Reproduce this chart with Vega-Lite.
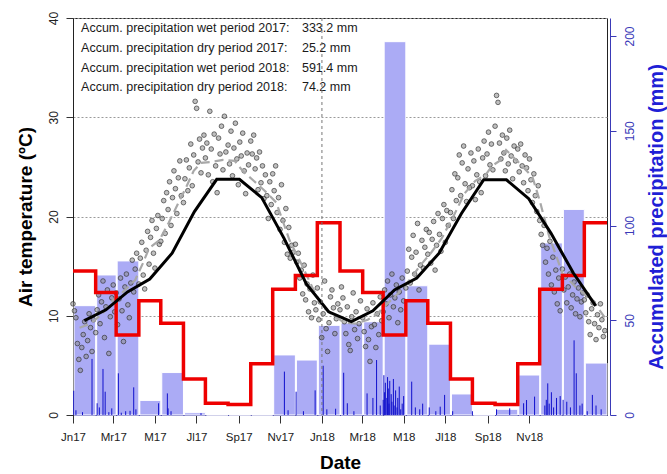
{
"$schema":"https://vega.github.io/schema/vega-lite/v6.json",
"width":534,"height":397,
"autosize":{"type":"none"},
"padding":{"left":73,"top":18,"right":60,"bottom":59},
"background":"white",
"config":{"font":"Liberation Sans","view":{"stroke":"#222","strokeWidth":1}},
"datasets":{
"monthly":[
{"m":"2017-01-01","p":57.7,"c":9.5},{"m":"2017-02-01","p":73.9,"c":10.6},{"m":"2017-03-01","p":81.3,"c":12.4},{"m":"2017-04-01","p":7.7,"c":13.7},{"m":"2017-05-01","p":22.4,"c":16.3},{"m":"2017-06-01","p":1.2,"c":20.5},{"m":"2017-07-01","p":0,"c":23.75},{"m":"2017-08-01","p":0,"c":23.75},{"m":"2017-09-01","p":0,"c":21.9},{"m":"2017-10-01","p":31.7,"c":17.8},{"m":"2017-11-01","p":29.0,"c":13.2},{"m":"2017-12-01","p":47.3,"c":10.4},
{"m":"2018-01-01","p":48.5,"c":9.4},{"m":"2018-02-01","p":49.2,"c":10.5},{"m":"2018-03-01","p":197.0,"c":12.6},{"m":"2018-04-01","p":68.2,"c":13.8},{"m":"2018-05-01","p":37.4,"c":16.3},{"m":"2018-06-01","p":11.1,"c":20.3},{"m":"2018-07-01","p":0,"c":23.7},{"m":"2018-08-01","p":3.0,"c":23.7},{"m":"2018-09-01","p":21.1,"c":21.8},{"m":"2018-10-01","p":90.8,"c":18.3},{"m":"2018-11-01","p":108.5,"c":14.3},{"m":"2018-12-01","p":27.4,"c":11.0}],
"hist":[
{"m":"2017-01-01","h":76.0},{"m":"2017-02-01","h":64.7},{"m":"2017-03-01","h":42.2},{"m":"2017-04-01","h":60.3},{"m":"2017-05-01","h":48.4},{"m":"2017-06-01","h":19.0},{"m":"2017-07-01","h":6.2},{"m":"2017-08-01","h":5.6},{"m":"2017-09-01","h":27.0},{"m":"2017-10-01","h":66.3},{"m":"2017-11-01","h":73.6},{"m":"2017-12-01","h":101.4},
{"m":"2018-01-01","h":76.0},{"m":"2018-02-01","h":64.7},{"m":"2018-03-01","h":42.2},{"m":"2018-04-01","h":60.3},{"m":"2018-05-01","h":48.4},{"m":"2018-06-01","h":19.0},{"m":"2018-07-01","h":6.2},{"m":"2018-08-01","h":5.6},{"m":"2018-09-01","h":27.0},{"m":"2018-10-01","h":66.3},{"m":"2018-11-01","h":73.6},{"m":"2018-12-01","h":101.4},{"m":"2019-01-01","h":101.4}],
"rain":[
{"d":"2017-01-02","p":12.8},{"d":"2017-01-05","p":2.5},{"d":"2017-01-14","p":1.5},{"d":"2017-01-27","p":29.6},{"d":"2017-02-03","p":6.2},{"d":"2017-02-06","p":4.0},{"d":"2017-02-11","p":24.3},{"d":"2017-02-14","p":12.3},{"d":"2017-02-19","p":1.5},{"d":"2017-02-23","p":3.5},{"d":"2017-03-04","p":22.0},{"d":"2017-03-08","p":1.2},{"d":"2017-03-14","p":2.0},{"d":"2017-03-20","p":2.2},{"d":"2017-03-25","p":14.6},{"d":"2017-03-28","p":3.0},{"d":"2017-04-28","p":6.2},{"d":"2017-05-10","p":11.4},{"d":"2017-05-11","p":3.5},{"d":"2017-05-15","p":2.0},{"d":"2017-06-25","p":1.0},
{"d":"2017-10-17","p":22.9},{"d":"2017-10-22","p":2.5},{"d":"2017-11-02","p":12.3},{"d":"2017-11-12","p":2.0},{"d":"2017-11-28","p":13.0},{"d":"2017-12-09","p":26.0},{"d":"2017-12-14","p":3.0},{"d":"2017-12-26","p":3.3},
{"d":"2018-01-06","p":22.3},{"d":"2018-01-11","p":6.2},{"d":"2018-01-20","p":2.0},{"d":"2018-02-07","p":11.4},{"d":"2018-02-15","p":9.0},{"d":"2018-02-20","p":29.0},{"d":"2018-02-25","p":5.0},
{"d":"2018-03-01","p":8},{"d":"2018-03-02","p":21},{"d":"2018-03-03","p":12},{"d":"2018-03-04","p":17},{"d":"2018-03-06","p":9},{"d":"2018-03-07","p":20},{"d":"2018-03-08","p":14},{"d":"2018-03-09","p":6},{"d":"2018-03-10","p":18},{"d":"2018-03-12","p":11},{"d":"2018-03-13","p":7},{"d":"2018-03-15","p":19},{"d":"2018-03-16","p":5},{"d":"2018-03-18","p":13},{"d":"2018-03-20","p":4},{"d":"2018-03-21","p":9},{"d":"2018-03-23","p":15},{"d":"2018-03-25","p":3},{"d":"2018-03-27","p":6},{"d":"2018-03-29","p":10},
{"d":"2018-04-09","p":17.6},{"d":"2018-04-14","p":4.0},{"d":"2018-04-20","p":3.0},{"d":"2018-04-24","p":6.0},{"d":"2018-05-03","p":4.0},{"d":"2018-05-12","p":2.0},{"d":"2018-05-18","p":4.4},{"d":"2018-05-24","p":10.6},{"d":"2018-06-04","p":2.0},{"d":"2018-07-01","p":2.0},{"d":"2018-08-03","p":3.0},{"d":"2018-08-21","p":3.5},{"d":"2018-09-09","p":6.2},{"d":"2018-09-13","p":7.9},{"d":"2018-09-24","p":9.7},
{"d":"2018-10-08","p":5.0},{"d":"2018-10-10","p":8.0},{"d":"2018-10-12","p":16.7},{"d":"2018-10-14","p":6.0},{"d":"2018-10-17","p":12.0},{"d":"2018-10-20","p":4.0},{"d":"2018-10-24","p":9.0},{"d":"2018-10-29","p":10.0},{"d":"2018-11-02","p":8.0},{"d":"2018-11-07","p":7.0},{"d":"2018-11-12","p":4.0},{"d":"2018-11-17","p":39.4},{"d":"2018-11-20","p":22.0},{"d":"2018-11-25","p":5.0},{"d":"2018-11-28","p":6.0},{"d":"2018-12-05","p":2.0},{"d":"2018-12-12","p":10.6},{"d":"2018-12-17","p":5.0},{"d":"2018-12-24","p":3.0}],
"smooth":[
{"d":"2017-01-10","t":8.8},{"d":"2017-01-25","t":9.2},{"d":"2017-02-10","t":10.2},{"d":"2017-02-25","t":11.6},{"d":"2017-03-12","t":12.5},{"d":"2017-03-27","t":13.6},{"d":"2017-04-06","t":15.2},{"d":"2017-04-15","t":16.8},{"d":"2017-04-29","t":17.6},{"d":"2017-05-12","t":19.4},{"d":"2017-05-24","t":21.2},{"d":"2017-06-05","t":23.0},{"d":"2017-06-15","t":24.6},{"d":"2017-06-25","t":25.4},{"d":"2017-07-10","t":25.5},{"d":"2017-07-25","t":25.7},{"d":"2017-08-10","t":25.6},{"d":"2017-08-22","t":24.5},{"d":"2017-09-05","t":23.6},{"d":"2017-09-20","t":22.6},{"d":"2017-10-06","t":21.4},{"d":"2017-10-24","t":17.6},{"d":"2017-11-08","t":15.4},{"d":"2017-11-24","t":12.9},{"d":"2017-12-08","t":10.9},{"d":"2017-12-22","t":10.1},
{"d":"2018-01-07","t":9.3},{"d":"2018-01-22","t":9.2},{"d":"2018-02-08","t":9.6},{"d":"2018-02-22","t":10.3},{"d":"2018-03-08","t":11.3},{"d":"2018-03-22","t":12.3},{"d":"2018-04-06","t":13.6},{"d":"2018-04-20","t":15.0},{"d":"2018-05-05","t":16.3},{"d":"2018-05-20","t":17.8},{"d":"2018-06-05","t":20.0},{"d":"2018-06-20","t":22.3},{"d":"2018-07-05","t":23.6},{"d":"2018-07-19","t":24.2},{"d":"2018-07-28","t":25.1},{"d":"2018-08-07","t":25.6},{"d":"2018-08-16","t":26.7},{"d":"2018-09-03","t":25.4},{"d":"2018-09-21","t":24.0},{"d":"2018-10-01","t":21.6},{"d":"2018-10-14","t":18.0},{"d":"2018-11-01","t":14.3},{"d":"2018-11-19","t":12.9},{"d":"2018-12-12","t":11.6},{"d":"2018-12-31","t":9.6}],
"daily":[
{"d":"2017-01-01","t":11.2},{"d":"2017-01-03","t":10.5},{"d":"2017-01-05","t":9.8},{"d":"2017-01-07","t":7.2},{"d":"2017-01-09","t":5.6},{"d":"2017-01-11","t":4.5},{"d":"2017-01-13","t":6.8},{"d":"2017-01-15","t":8.1},{"d":"2017-01-17","t":9.4},{"d":"2017-01-19","t":5.9},{"d":"2017-01-21","t":7.5},{"d":"2017-01-23","t":10.2},{"d":"2017-01-25","t":8.8},{"d":"2017-01-27","t":6.4},{"d":"2017-01-29","t":9.6},
{"d":"2017-02-01","t":8.3},{"d":"2017-02-03","t":10.6},{"d":"2017-02-05","t":12.1},{"d":"2017-02-07","t":9.2},{"d":"2017-02-09","t":11.4},{"d":"2017-02-11","t":13.5},{"d":"2017-02-13","t":7.8},{"d":"2017-02-15","t":10.9},{"d":"2017-02-17","t":12.6},{"d":"2017-02-19","t":6.2},{"d":"2017-02-21","t":9.9},{"d":"2017-02-23","t":11.8},{"d":"2017-02-25","t":13.1},{"d":"2017-02-27","t":10.4},
{"d":"2017-03-01","t":12.3},{"d":"2017-03-03","t":9.1},{"d":"2017-03-05","t":11.7},{"d":"2017-03-07","t":13.8},{"d":"2017-03-09","t":10.5},{"d":"2017-03-11","t":7.4},{"d":"2017-03-13","t":12.9},{"d":"2017-03-15","t":14.2},{"d":"2017-03-17","t":11.1},{"d":"2017-03-19","t":9.8},{"d":"2017-03-21","t":13.3},{"d":"2017-03-23","t":15.6},{"d":"2017-03-25","t":12.4},{"d":"2017-03-27","t":14.7},{"d":"2017-03-29","t":16.3},
{"d":"2017-04-01","t":13.2},{"d":"2017-04-03","t":15.8},{"d":"2017-04-05","t":17.4},{"d":"2017-04-07","t":14.1},{"d":"2017-04-09","t":12.7},{"d":"2017-04-11","t":16.6},{"d":"2017-04-13","t":18.5},{"d":"2017-04-15","t":15.2},{"d":"2017-04-17","t":17.9},{"d":"2017-04-19","t":19.6},{"d":"2017-04-21","t":16.3},{"d":"2017-04-23","t":14.8},{"d":"2017-04-25","t":18.8},{"d":"2017-04-27","t":20.1},{"d":"2017-04-29","t":17.2},
{"d":"2017-05-01","t":17.5},{"d":"2017-05-03","t":19.8},{"d":"2017-05-05","t":21.6},{"d":"2017-05-07","t":18.3},{"d":"2017-05-09","t":22.4},{"d":"2017-05-11","t":20.7},{"d":"2017-05-13","t":23.5},{"d":"2017-05-15","t":19.1},{"d":"2017-05-17","t":21.9},{"d":"2017-05-19","t":24.6},{"d":"2017-05-21","t":22.8},{"d":"2017-05-23","t":20.3},{"d":"2017-05-25","t":23.9},{"d":"2017-05-27","t":25.6},{"d":"2017-05-29","t":22.1},
{"d":"2017-06-01","t":21.4},{"d":"2017-06-03","t":23.8},{"d":"2017-06-05","t":25.7},{"d":"2017-06-07","t":22.6},{"d":"2017-06-09","t":24.9},{"d":"2017-06-11","t":27.3},{"d":"2017-06-13","t":23.1},{"d":"2017-06-15","t":26.2},{"d":"2017-06-17","t":31.6},{"d":"2017-06-19","t":30.9},{"d":"2017-06-21","t":25.5},{"d":"2017-06-23","t":27.8},{"d":"2017-06-25","t":24.4},{"d":"2017-06-27","t":26.9},{"d":"2017-06-29","t":28.2},
{"d":"2017-07-01","t":25.9},{"d":"2017-07-03","t":27.4},{"d":"2017-07-05","t":24.2},{"d":"2017-07-07","t":30.6},{"d":"2017-07-09","t":26.8},{"d":"2017-07-11","t":23.5},{"d":"2017-07-13","t":28.3},{"d":"2017-07-15","t":25.1},{"d":"2017-07-17","t":22.4},{"d":"2017-07-19","t":27.9},{"d":"2017-07-21","t":26.3},{"d":"2017-07-23","t":29.1},{"d":"2017-07-25","t":24.7},{"d":"2017-07-27","t":30.1},{"d":"2017-07-29","t":26.5},
{"d":"2017-08-01","t":27.2},{"d":"2017-08-03","t":25.3},{"d":"2017-08-05","t":28.6},{"d":"2017-08-07","t":24.1},{"d":"2017-08-09","t":26.9},{"d":"2017-08-11","t":29.4},{"d":"2017-08-13","t":25.8},{"d":"2017-08-15","t":23.2},{"d":"2017-08-17","t":27.5},{"d":"2017-08-19","t":26.1},{"d":"2017-08-21","t":28.4},{"d":"2017-08-23","t":24.6},{"d":"2017-08-25","t":22.3},{"d":"2017-08-27","t":26.4},{"d":"2017-08-29","t":25.2},
{"d":"2017-09-01","t":27.6},{"d":"2017-09-03","t":26.3},{"d":"2017-09-05","t":28.2},{"d":"2017-09-07","t":24.8},{"d":"2017-09-09","t":25.9},{"d":"2017-09-11","t":22.7},{"d":"2017-09-13","t":26.5},{"d":"2017-09-15","t":23.4},{"d":"2017-09-17","t":25.1},{"d":"2017-09-19","t":21.8},{"d":"2017-09-21","t":24.2},{"d":"2017-09-23","t":22.1},{"d":"2017-09-25","t":19.8},{"d":"2017-09-27","t":23.5},{"d":"2017-09-29","t":21.2},
{"d":"2017-10-01","t":24.3},{"d":"2017-10-03","t":22.6},{"d":"2017-10-05","t":25.1},{"d":"2017-10-07","t":20.4},{"d":"2017-10-09","t":21.9},{"d":"2017-10-11","t":18.7},{"d":"2017-10-13","t":23.2},{"d":"2017-10-15","t":19.6},{"d":"2017-10-17","t":17.4},{"d":"2017-10-19","t":20.8},{"d":"2017-10-21","t":16.2},{"d":"2017-10-23","t":18.9},{"d":"2017-10-25","t":15.8},{"d":"2017-10-27","t":17.1},{"d":"2017-10-29","t":16.4},
{"d":"2017-11-01","t":17.2},{"d":"2017-11-03","t":15.4},{"d":"2017-11-05","t":16.3},{"d":"2017-11-07","t":13.8},{"d":"2017-11-09","t":14.6},{"d":"2017-11-11","t":12.2},{"d":"2017-11-13","t":15.1},{"d":"2017-11-15","t":11.6},{"d":"2017-11-17","t":13.2},{"d":"2017-11-19","t":10.4},{"d":"2017-11-21","t":12.7},{"d":"2017-11-23","t":9.8},{"d":"2017-11-25","t":14.1},{"d":"2017-11-27","t":11.3},{"d":"2017-11-29","t":10.6},
{"d":"2017-12-01","t":12.8},{"d":"2017-12-03","t":9.6},{"d":"2017-12-05","t":11.4},{"d":"2017-12-07","t":7.8},{"d":"2017-12-09","t":10.2},{"d":"2017-12-11","t":13.5},{"d":"2017-12-13","t":8.7},{"d":"2017-12-15","t":6.4},{"d":"2017-12-17","t":9.3},{"d":"2017-12-19","t":11.9},{"d":"2017-12-21","t":12.6},{"d":"2017-12-23","t":10.8},{"d":"2017-12-25","t":8.2},{"d":"2017-12-27","t":9.7},{"d":"2017-12-29","t":11.2},
{"d":"2018-01-01","t":10.6},{"d":"2018-01-03","t":12.9},{"d":"2018-01-05","t":11.8},{"d":"2018-01-07","t":9.4},{"d":"2018-01-09","t":8.2},{"d":"2018-01-11","t":10.9},{"d":"2018-01-13","t":7.1},{"d":"2018-01-15","t":6.5},{"d":"2018-01-17","t":9.9},{"d":"2018-01-19","t":12.3},{"d":"2018-01-21","t":8.6},{"d":"2018-01-23","t":10.4},{"d":"2018-01-25","t":7.7},{"d":"2018-01-27","t":9.2},{"d":"2018-01-29","t":11.5},
{"d":"2018-02-01","t":9.8},{"d":"2018-02-03","t":8.4},{"d":"2018-02-05","t":6.9},{"d":"2018-02-07","t":10.7},{"d":"2018-02-09","t":7.6},{"d":"2018-02-11","t":5.4},{"d":"2018-02-13","t":8.9},{"d":"2018-02-15","t":11.3},{"d":"2018-02-17","t":9.1},{"d":"2018-02-19","t":6.8},{"d":"2018-02-21","t":10.2},{"d":"2018-02-23","t":8.1},{"d":"2018-02-25","t":11.9},{"d":"2018-02-27","t":9.5},
{"d":"2018-03-01","t":10.4},{"d":"2018-03-03","t":12.6},{"d":"2018-03-05","t":11.2},{"d":"2018-03-07","t":13.5},{"d":"2018-03-09","t":9.8},{"d":"2018-03-11","t":12.1},{"d":"2018-03-13","t":14.2},{"d":"2018-03-15","t":10.9},{"d":"2018-03-17","t":11.8},{"d":"2018-03-19","t":13.1},{"d":"2018-03-21","t":9.3},{"d":"2018-03-23","t":12.4},{"d":"2018-03-25","t":10.6},{"d":"2018-03-27","t":13.8},{"d":"2018-03-29","t":11.5},
{"d":"2018-04-01","t":12.8},{"d":"2018-04-03","t":14.5},{"d":"2018-04-05","t":16.7},{"d":"2018-04-07","t":13.3},{"d":"2018-04-09","t":15.9},{"d":"2018-04-11","t":18.1},{"d":"2018-04-13","t":14.2},{"d":"2018-04-15","t":16.4},{"d":"2018-04-17","t":19.3},{"d":"2018-04-19","t":12.6},{"d":"2018-04-21","t":15.1},{"d":"2018-04-23","t":17.6},{"d":"2018-04-25","t":14.8},{"d":"2018-04-27","t":16.9},{"d":"2018-04-29","t":18.7},
{"d":"2018-05-01","t":16.2},{"d":"2018-05-03","t":18.4},{"d":"2018-05-05","t":15.3},{"d":"2018-05-07","t":17.7},{"d":"2018-05-09","t":19.5},{"d":"2018-05-11","t":14.6},{"d":"2018-05-13","t":17.1},{"d":"2018-05-15","t":20.3},{"d":"2018-05-17","t":18.2},{"d":"2018-05-19","t":16.5},{"d":"2018-05-21","t":19.8},{"d":"2018-05-23","t":21.2},{"d":"2018-05-25","t":17.4},{"d":"2018-05-27","t":20.6},{"d":"2018-05-29","t":19.1},
{"d":"2018-06-01","t":20.4},{"d":"2018-06-03","t":22.7},{"d":"2018-06-05","t":19.8},{"d":"2018-06-07","t":24.3},{"d":"2018-06-09","t":21.6},{"d":"2018-06-11","t":23.9},{"d":"2018-06-13","t":26.2},{"d":"2018-06-15","t":22.1},{"d":"2018-06-17","t":25.4},{"d":"2018-06-19","t":27.1},{"d":"2018-06-21","t":23.3},{"d":"2018-06-23","t":21.5},{"d":"2018-06-25","t":24.8},{"d":"2018-06-27","t":22.9},{"d":"2018-06-29","t":26.4},
{"d":"2018-07-01","t":23.1},{"d":"2018-07-03","t":25.6},{"d":"2018-07-05","t":21.7},{"d":"2018-07-07","t":24.2},{"d":"2018-07-09","t":26.8},{"d":"2018-07-11","t":23.5},{"d":"2018-07-13","t":22.4},{"d":"2018-07-15","t":25.9},{"d":"2018-07-17","t":27.6},{"d":"2018-07-19","t":24.1},{"d":"2018-07-21","t":26.3},{"d":"2018-07-23","t":28.5},{"d":"2018-07-25","t":25.2},{"d":"2018-07-27","t":27.3},{"d":"2018-07-29","t":24.7},
{"d":"2018-08-01","t":29.1},{"d":"2018-08-03","t":32.2},{"d":"2018-08-05","t":31.5},{"d":"2018-08-07","t":27.4},{"d":"2018-08-09","t":25.8},{"d":"2018-08-11","t":28.2},{"d":"2018-08-13","t":26.4},{"d":"2018-08-15","t":24.6},{"d":"2018-08-17","t":27.9},{"d":"2018-08-19","t":25.3},{"d":"2018-08-21","t":28.7},{"d":"2018-08-23","t":26.1},{"d":"2018-08-25","t":23.8},{"d":"2018-08-27","t":27.1},{"d":"2018-08-29","t":25.6},
{"d":"2018-09-01","t":26.8},{"d":"2018-09-03","t":24.5},{"d":"2018-09-05","t":27.3},{"d":"2018-09-07","t":25.1},{"d":"2018-09-09","t":23.4},{"d":"2018-09-11","t":26.2},{"d":"2018-09-13","t":24.9},{"d":"2018-09-15","t":22.6},{"d":"2018-09-17","t":25.8},{"d":"2018-09-19","t":23.7},{"d":"2018-09-21","t":21.4},{"d":"2018-09-23","t":24.3},{"d":"2018-09-25","t":22.1},{"d":"2018-09-27","t":20.5},{"d":"2018-09-29","t":23.1},
{"d":"2018-10-01","t":19.6},{"d":"2018-10-03","t":18.2},{"d":"2018-10-05","t":17.1},{"d":"2018-10-07","t":19.1},{"d":"2018-10-09","t":15.4},{"d":"2018-10-11","t":16.8},{"d":"2018-10-13","t":14.2},{"d":"2018-10-15","t":17.5},{"d":"2018-10-17","t":13.1},{"d":"2018-10-19","t":15.9},{"d":"2018-10-21","t":12.4},{"d":"2018-10-23","t":14.6},{"d":"2018-10-25","t":11.2},{"d":"2018-10-27","t":13.8},{"d":"2018-10-29","t":10.5},
{"d":"2018-11-01","t":14.7},{"d":"2018-11-03","t":12.6},{"d":"2018-11-05","t":13.9},{"d":"2018-11-07","t":11.3},{"d":"2018-11-09","t":12.9},{"d":"2018-11-11","t":14.2},{"d":"2018-11-13","t":10.8},{"d":"2018-11-15","t":12.1},{"d":"2018-11-17","t":13.4},{"d":"2018-11-19","t":10.2},{"d":"2018-11-21","t":11.7},{"d":"2018-11-23","t":12.8},{"d":"2018-11-25","t":9.9},{"d":"2018-11-27","t":11.4},{"d":"2018-11-29","t":12.3},
{"d":"2018-12-01","t":11.6},{"d":"2018-12-03","t":10.3},{"d":"2018-12-05","t":12.1},{"d":"2018-12-07","t":9.4},{"d":"2018-12-09","t":8.1},{"d":"2018-12-11","t":10.7},{"d":"2018-12-13","t":11.3},{"d":"2018-12-15","t":9.2},{"d":"2018-12-17","t":7.6},{"d":"2018-12-19","t":10.1},{"d":"2018-12-21","t":8.8},{"d":"2018-12-23","t":11.2},{"d":"2018-12-25","t":9.6},{"d":"2018-12-27","t":7.9},{"d":"2018-12-29","t":8.5}],
"notes":[
{"line":1,"label":"Accum. precipitation wet period 2017:","value":"333.2 mm"},
{"line":2,"label":"Accum. precipitation dry period 2017:","value":"25.2 mm"},
{"line":3,"label":"Accum. precipitation wet period 2018:","value":"591.4 mm"},
{"line":4,"label":"Accum. precipitation dry period 2018:","value":"74.2 mm"}],
"marker":[{"d":"2018-01-01"}]
},
"layer":[
{
"layer":[
{"data":{"name":"monthly"},
 "layer":[
 {"mark":{"type":"bar","color":"#ababf5","stroke":"white","strokeWidth":1},
  "encoding":{
   "x":{"field":"m","type":"temporal","timeUnit":"utcyearmonth","axis":null,"scale":{"type":"utc","domain":[{"year":2017,"month":1,"date":1,"utc":true},{"year":2019,"month":1,"date":1,"utc":true}]}},
   "y":{"field":"p","type":"quantitative","scale":{"domain":[0,209.5],"nice":false,"zero":false},
    "axis":{"orient":"right","values":[0,50,100,150,200],"title":"Accumulated precipitation (mm)","titleColor":"#1f1fd6","titleFontSize":20,"titleFontWeight":"bold","titleAngle":270,"titleBaseline":"top","titlePadding":11,"labelAngle":270,"labelAlign":"center","labelBaseline":"top","labelColor":"#3a3ab8","labelFontSize":12,"labelPadding":8,"tickColor":"#3a3ab8","domainColor":"#3a3ab8","tickSize":6,"offset":3,"grid":false}}}},
 {"data":{"name":"rain"},"mark":{"type":"rule","color":"#1010cc","strokeWidth":1},
  "encoding":{
   "x":{"field":"d","type":"temporal","axis":null,"scale":{"type":"utc","domain":[{"year":2017,"month":1,"date":1,"utc":true},{"year":2019,"month":1,"date":1,"utc":true}]}},
   "y":{"field":"p","type":"quantitative"},
   "y2":{"datum":0}}}
 ]},
{"layer":[
 {"data":{"name":"daily"},"mark":{"type":"circle","size":22,"fill":"#8a8a8a","fillOpacity":0.55,"stroke":"#333333","strokeOpacity":0.75,"strokeWidth":0.9},
  "encoding":{
   "x":{"field":"d","type":"temporal","axis":null,"scale":{"type":"utc","domain":[{"year":2017,"month":1,"date":1,"utc":true},{"year":2019,"month":1,"date":1,"utc":true}]}},
   "y":{"field":"t","type":"quantitative","scale":{"domain":[0,40],"nice":false,"zero":false},
    "axis":{"orient":"left","values":[0,10,20,30,40],"title":"Air temperature (ºC)","titleFontSize":19,"titleFontWeight":"bold","titleColor":"black","titlePadding":12,"labelAngle":270,"labelAlign":"center","labelBaseline":"bottom","labelFontSize":12,"labelColor":"#222","labelPadding":6,"tickSize":7,"tickColor":"#333","domainColor":"#222","grid":true,"gridDash":[2,2],"gridColor":"#9a9a9a","gridWidth":1}}}},
 {"data":{"name":"smooth"},"mark":{"type":"line","color":"#a8a8a8","strokeWidth":2.2,"strokeDash":[9,5]},
  "encoding":{
   "x":{"field":"d","type":"temporal","axis":null},
   "y":{"field":"t","type":"quantitative"}}}
 ]},
{"data":{"name":"hist"},"mark":{"type":"line","color":"#ee0000","strokeWidth":3.5,"interpolate":"step-after"},
 "encoding":{
  "x":{"field":"m","type":"temporal","axis":null},
  "y":{"field":"h","type":"quantitative","axis":null,"scale":{"domain":[0,209.5],"nice":false,"zero":false}}}},
{"data":{"name":"monthly"},"mark":{"type":"line","color":"black","strokeWidth":3},
 "encoding":{
  "x":{"field":"m","type":"temporal","timeUnit":"utcyearmonth","bandPosition":0.5,"axis":null},
  "y":{"field":"c","type":"quantitative","axis":null,"scale":{"domain":[0,40],"nice":false,"zero":false}}}},
{"data":{"name":"notes"},
 "layer":[
 {"mark":{"type":"text","align":"left","baseline":"middle","fontSize":12.5,"color":"#1a1a1a"},
  "encoding":{
   "x":{"datum":{"year":2017,"month":1,"date":12,"utc":true},"type":"temporal","axis":null},
   "y":{"field":"line","type":"quantitative","axis":null,"scale":{"domain":[0.5,20.5],"reverse":true,"nice":false,"zero":false}},
   "text":{"field":"label"}}},
 {"mark":{"type":"text","align":"left","baseline":"middle","fontSize":12.5,"color":"#1a1a1a"},
  "encoding":{
   "x":{"datum":{"year":2017,"month":11,"date":10,"utc":true},"type":"temporal","axis":null},
   "y":{"field":"line","type":"quantitative","axis":null},
   "text":{"field":"value"}}}
 ]}
],
"resolve":{"scale":{"y":"independent"}}
},
{"data":{"name":"marker"},"mark":{"type":"rule","color":"#777","strokeWidth":1,"strokeDash":[3,3]},
 "encoding":{
  "x":{"field":"d","type":"temporal","scale":{"type":"utc","domain":[{"year":2017,"month":1,"date":1,"utc":true},{"year":2019,"month":2,"date":23,"utc":true}]},
   "axis":{"orient":"bottom","values":[{"year":2017,"month":1,"date":1,"utc":true},{"year":2017,"month":3,"date":1,"utc":true},{"year":2017,"month":5,"date":1,"utc":true},{"year":2017,"month":7,"date":1,"utc":true},{"year":2017,"month":9,"date":1,"utc":true},{"year":2017,"month":11,"date":1,"utc":true},{"year":2018,"month":1,"date":1,"utc":true},{"year":2018,"month":3,"date":1,"utc":true},{"year":2018,"month":5,"date":1,"utc":true},{"year":2018,"month":7,"date":1,"utc":true},{"year":2018,"month":9,"date":1,"utc":true},{"year":2018,"month":11,"date":1,"utc":true}],
    "labelExpr":"['Jn','Fb','Mr','Ab','M','Jn','Jl','Ag','Sp','Oc','Nv','Dc'][utcmonth(datum.value)] + utcFormat(datum.value, '%y')",
    "title":"Date","titleFontSize":19,"titleFontWeight":"bold","titleColor":"black","titlePadding":11,
    "labelFontSize":11.5,"labelColor":"#222","labelPadding":8,"labelFlush":false,"labelOverlap":false,"tickSize":8,"tickColor":"#333","domainColor":"#4545aa","grid":false}}}}
],
"resolve":{"scale":{"x":"independent","y":"independent"}}
}
